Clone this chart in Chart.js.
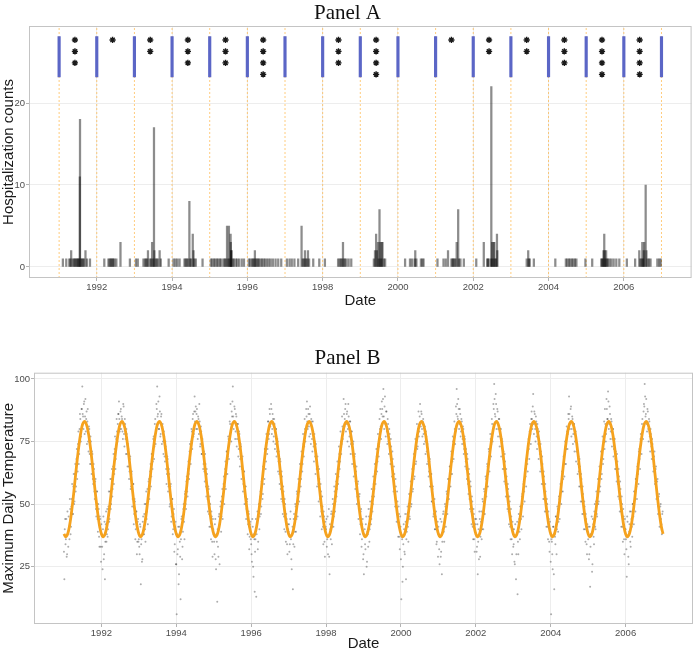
<!DOCTYPE html>
<html>
<head>
<meta charset="utf-8">
<script src="https://cdn.jsdelivr.net/npm/chart.js@4.4.1/dist/chart.umd.min.js"></script>
<style>
  html, body { margin: 0; padding: 0; background: #fff; }
  body { width: 697px; height: 653px; position: relative; overflow: hidden; }
  canvas { position: absolute; left: 0; }
  #panelA { top: 0; }
  #panelB { top: 335px; }
</style>
</head>
<body>
<canvas id="panelA" width="697" height="310"></canvas>
<canvas id="panelB" width="697" height="318"></canvas>
<script>
// ---- Panel A : hospitalization counts (decimal year of admission, count)
const admitDates = [
  1991.10, 1991.19, 1991.27, 1991.30, 1991.32, 1991.36, 1991.39, 1991.42, 1991.44, 1991.47, 1991.49, 1991.51, 1991.53, 1991.55, 1991.555, 1991.58, 1991.61, 1991.63, 1991.66, 1991.70, 1991.74, 1991.82,
  1992.20, 1992.31, 1992.34, 1992.37, 1992.39, 1992.42, 1992.44, 1992.47, 1992.52, 1992.63, 1992.88,
  1993.04, 1993.09, 1993.24, 1993.28, 1993.31, 1993.34, 1993.36, 1993.41, 1993.44, 1993.47, 1993.49, 1993.52, 1993.53, 1993.56, 1993.59, 1993.62, 1993.67, 1993.70,
  1993.91, 1994.04, 1994.09, 1994.14, 1994.20, 1994.33, 1994.36, 1994.39, 1994.42, 1994.46, 1994.48, 1994.51, 1994.55, 1994.57, 1994.59, 1994.63, 1994.81,
  1995.03, 1995.07, 1995.11, 1995.15, 1995.19, 1995.23, 1995.27, 1995.31, 1995.37, 1995.40, 1995.43, 1995.46, 1995.49, 1995.51, 1995.53, 1995.555, 1995.56, 1995.57, 1995.58, 1995.61, 1995.64, 1995.69, 1995.73, 1995.78, 1995.85, 1995.91,
  1996.04, 1996.08, 1996.12, 1996.15, 1996.18, 1996.20, 1996.22, 1996.25, 1996.28, 1996.31, 1996.35, 1996.39, 1996.43, 1996.47, 1996.52, 1996.57, 1996.62, 1996.68, 1996.75, 1996.82, 1996.90,
  1997.05, 1997.12, 1997.18, 1997.25, 1997.35, 1997.44, 1997.47, 1997.50, 1997.53, 1997.55, 1997.58, 1997.61, 1997.64, 1997.75, 1997.91,
  1998.06, 1998.41, 1998.45, 1998.48, 1998.51, 1998.54, 1998.56, 1998.59, 1998.63, 1998.69, 1998.76,
  1999.36, 1999.39, 1999.42, 1999.44, 1999.47, 1999.49, 1999.51, 1999.53, 1999.55, 1999.57, 1999.59, 1999.62, 1999.66,
  2000.19, 2000.32, 2000.37, 2000.44, 2000.46, 2000.49, 2000.61, 2000.65, 2000.68,
  2001.05, 2001.21, 2001.27, 2001.33, 2001.42, 2001.45, 2001.47, 2001.50, 2001.53, 2001.56, 2001.60, 2001.62, 2001.66, 2001.75,
  2002.08, 2002.28, 2002.37, 2002.39, 2002.41, 2002.47, 2002.48, 2002.50, 2002.52, 2002.54, 2002.56, 2002.58, 2002.60, 2002.63, 2002.64,
  2003.42, 2003.46, 2003.48, 2003.50, 2003.61,
  2004.18, 2004.46, 2004.50, 2004.54, 2004.58, 2004.62, 2004.66, 2004.70, 2004.74,
  2004.98, 2005.16, 2005.40, 2005.42, 2005.44, 2005.46, 2005.48, 2005.49, 2005.51, 2005.53, 2005.55, 2005.58, 2005.62, 2005.67, 2005.73, 2005.80, 2005.88,
  2006.08, 2006.30, 2006.41, 2006.44, 2006.47, 2006.49, 2006.51, 2006.53, 2006.54, 2006.58, 2006.60, 2006.63, 2006.67, 2006.71, 2006.89, 2006.94, 2006.98
];
const admitCounts = [
  1, 1, 1, 1, 2, 1, 1, 1, 1, 1, 1, 1, 1, 11, 18, 1, 1, 1, 1, 2, 1, 1,
  1, 1, 1, 1, 1, 1, 1, 1, 1, 3, 1,
  1, 1, 1, 1, 1, 1, 2, 1, 1, 3, 1, 17, 2, 1, 1, 1, 2, 1,
  1, 1, 1, 1, 1, 1, 1, 1, 1, 8, 1, 1, 4, 2, 1, 1, 1,
  1, 1, 1, 1, 1, 1, 1, 1, 1, 1, 1, 5, 1, 5, 1, 4, 3, 2, 2, 1, 1, 1, 1, 1, 1, 1,
  1, 1, 1, 1, 1, 2, 1, 1, 1, 1, 1, 1, 1, 1, 1, 1, 1, 1, 1, 1, 1,
  1, 1, 1, 1, 1, 5, 1, 1, 2, 1, 1, 2, 1, 1, 1,
  1, 1, 1, 1, 1, 3, 1, 1, 1, 1, 1,
  1, 2, 4, 2, 3, 1, 7, 3, 1, 3, 3, 1, 1,
  1, 1, 1, 1, 2, 1, 1, 1, 1,
  1, 1, 1, 2, 1, 1, 1, 1, 1, 3, 7, 1, 1, 1,
  1, 3, 1, 1, 1, 1, 22, 3, 1, 3, 3, 1, 1, 4, 2,
  1, 2, 1, 1, 1,
  1, 1, 1, 1, 1, 1, 1, 1, 1,
  1, 1, 1, 1, 1, 2, 4, 2, 1, 2, 1, 1, 1, 1, 1, 1, 1,
  1, 1, 2, 1, 1, 3, 1, 2, 3, 10, 2, 1, 1, 1, 1, 1, 1
];

// year boundaries (orange dotted lines and blue markers)
const yearLines = [1991, 1992, 1993, 1994, 1995, 1996, 1997, 1998, 1999, 2000, 2001, 2002, 2003, 2004, 2005, 2006, 2007];
const blueSpan = [23.2, 28.1];

// significance asterisks per year
const starDates  = [1991.42, 1992.42, 1993.42, 1994.42, 1995.42, 1996.42, 1997.42, 1998.42, 1999.42, 2000.42, 2001.42, 2002.42, 2003.42, 2004.42, 2005.42, 2006.42];
const starCounts = [3, 1, 2, 3, 3, 4, 0, 3, 4, 0, 1, 2, 2, 3, 4, 4];
const starLevels = [27.7, 26.3, 24.9, 23.5];

const yearTicks = [1992, 1994, 1996, 1998, 2000, 2002, 2004, 2006];

// ---- Panel B : maximum daily temperature, two sets of 48 readings per year
const tempYears = [1991, 1992, 1993, 1994, 1995, 1996, 1997, 1998, 1999, 2000, 2001, 2002, 2003, 2004, 2005, 2006];
const tempSamples = [
  [20,44,36,29,47,33,41,52,38,49,58,46, 62,51,66,57,72,63,79,70,86,75,88,97, 85,90,78,92,84,74,88,71,80,66,75,62, 70,58,64,52,60,45,55,39,48,33,44,27],
  [38,24,45,30,20,42,35,48,40,55,44,60, 50,64,56,70,62,77,68,84,75,86,91,79, 87,80,84,76,89,73,82,70,78,65,72,60, 68,56,62,49,58,42,52,36,47,30,43,35],
  [33,42,18,36,28,45,38,50,35,55,47,42, 59,52,63,57,70,64,76,68,82,74,90,97, 86,80,93,77,85,74,82,70,77,67,73,58, 69,55,64,49,57,43,52,38,46,31,41,26],
  [6,30,41,22,35,12,44,28,39,50,36,55, 48,61,53,67,60,74,66,80,72,86,78,93, 87,80,88,76,84,90,73,81,70,76,64,71, 59,66,53,62,47,56,41,50,36,45,29,40],
  [35,42,28,38,11,33,45,26,49,39,53,44, 58,50,64,56,71,62,77,68,83,90,75,85, 97,80,89,76,86,73,82,69,79,65,74,60, 68,55,63,50,57,44,51,38,47,32,42,36],
  [30,44,25,38,15,36,13,42,32,47,40,53, 46,59,52,65,58,72,64,78,70,83,76,88, 81,90,78,86,75,84,72,80,69,76,63,71, 58,67,52,61,46,55,40,50,35,44,30,40],
  [42,34,47,28,38,16,44,33,50,39,55,45, 60,51,66,57,71,63,78,69,84,75,88,91, 80,86,77,89,74,83,71,79,67,75,62,70, 57,65,51,60,45,55,40,49,34,45,29,41],
  [44,36,30,48,22,40,46,34,52,41,57,47, 62,53,67,58,73,64,79,70,85,76,92,81, 88,79,86,75,90,73,83,70,79,66,74,61, 69,56,63,50,58,44,53,38,47,33,42,28],
  [22,40,32,45,27,38,48,35,51,42,56,47, 61,53,66,58,72,63,78,69,84,88,76,91, 85,96,80,93,77,87,74,82,70,78,66,73, 61,68,55,62,49,57,43,51,37,46,32,41],
  [12,36,25,42,31,46,20,39,49,35,54,44, 59,50,64,56,70,61,76,67,82,73,87,79, 90,81,86,77,84,74,81,70,77,66,72,61, 67,57,62,51,56,45,50,40,45,34,41,29],
  [38,26,44,31,22,40,47,35,50,41,55,46, 60,52,65,57,71,62,77,68,83,74,89,96, 85,92,80,88,77,84,74,81,70,77,65,72, 60,68,54,62,48,57,42,51,36,46,31,42],
  [44,33,22,40,47,29,43,36,52,40,56,46, 61,53,66,57,72,63,78,69,84,75,90,98, 86,94,80,88,77,84,73,80,69,76,64,71, 59,67,53,61,48,56,42,51,36,45,30,40],
  [34,27,42,20,38,14,30,44,36,49,40,54, 45,59,51,64,57,70,63,76,68,82,74,87, 80,94,78,86,75,83,72,80,68,75,63,71, 58,66,52,61,47,55,41,50,36,44,31,40],
  [6,35,24,41,16,37,45,30,49,39,53,44, 58,50,63,55,69,61,75,66,81,72,86,93, 80,88,77,85,74,82,71,78,67,74,62,69, 57,65,51,60,46,54,40,49,35,44,30,39],
  [41,30,17,38,45,26,42,34,50,40,55,45, 60,51,65,57,71,62,77,68,83,88,75,92, 84,95,80,89,76,84,73,80,69,76,64,71, 59,67,53,61,47,56,41,50,35,45,30,40],
  [36,21,43,29,39,47,33,44,37,50,42,55, 47,60,52,66,58,72,64,78,70,84,76,90, 98,85,92,79,87,75,83,71,78,68,74,63, 69,58,64,52,59,46,53,41,49,44,38,47]
];
const tempSamplesB = [
  [31,40,34,44,30,39,45,36,48,41,52,46, 57,50,62,55,68,60,74,66,80,84,77,88, 86,80,91,85,79,87,83,75,81,70,77,66, 71,60,66,55,59,48,55,44,50,37,45,33],
  [42,33,40,28,43,35,47,38,37,49,43,55, 48,60,53,65,58,72,64,76,79,82,86,84, 80,88,85,79,90,78,84,76,80,70,74,65, 63,69,57,63,52,58,46,51,40,47,35,44],
  [36,30,41,34,27,43,38,46,40,50,44,56, 51,60,56,66,61,70,67,77,73,84,79,88, 85,91,80,87,78,86,81,75,79,69,75,64, 62,68,57,62,50,58,45,52,40,48,34,43],
  [26,38,32,18,41,29,36,45,33,48,43,54, 50,59,55,64,62,71,68,75,79,84,77,87, 83,89,86,80,85,78,83,74,79,70,73,66, 63,70,57,64,52,57,46,53,41,47,35,44],
  [38,30,44,24,35,40,29,46,42,51,45,56, 53,61,57,67,62,71,69,76,74,82,80,87, 91,85,83,88,79,85,76,82,72,78,68,73, 64,69,58,63,53,57,48,52,42,46,37,43],
  [34,27,41,21,36,31,44,38,47,35,50,45, 55,49,60,54,65,60,72,67,76,72,83,78, 86,82,88,80,84,77,82,74,80,71,75,67, 62,68,56,63,51,57,45,52,39,46,34,42],
  [39,31,44,36,24,41,34,46,39,49,44,54, 50,58,55,63,60,69,66,74,73,80,79,85, 83,88,81,86,78,84,76,83,73,78,69,74, 64,69,58,64,52,58,47,53,41,47,35,43],
  [40,33,45,37,29,42,36,47,41,50,45,55, 51,59,56,64,61,70,67,75,74,81,80,86, 84,90,82,87,80,85,77,83,74,79,70,75, 65,70,59,65,53,59,48,54,42,48,36,44],
  [30,38,34,42,25,39,33,45,40,48,44,53, 50,58,56,63,62,69,67,74,73,80,81,86, 88,92,85,89,82,87,79,84,75,80,71,76, 66,71,60,65,54,60,49,55,43,49,37,45],
  [28,37,19,34,40,30,43,36,46,41,50,45, 54,49,59,55,64,60,70,66,75,72,80,77, 85,82,87,80,83,78,81,75,79,71,74,67, 63,68,57,62,51,57,46,52,40,47,35,43],
  [41,32,37,29,43,35,46,39,44,49,47,54, 52,60,57,65,62,70,67,75,74,80,79,86, 90,84,88,82,86,79,83,76,80,72,76,67, 64,70,58,64,52,59,47,53,41,48,36,44],
  [38,31,42,35,28,44,37,47,40,51,46,55, 52,60,57,65,62,71,68,76,74,82,80,88, 92,85,90,83,87,80,84,77,80,73,75,68, 64,70,58,64,53,58,47,53,41,48,36,43],
  [33,40,26,37,30,43,35,46,39,49,44,53, 50,58,55,63,61,68,66,74,72,79,78,84, 84,89,82,87,80,85,77,82,74,79,70,74, 64,69,58,63,52,58,47,52,41,47,35,43],
  [27,36,30,41,22,38,34,45,40,48,43,52, 51,57,55,62,60,68,66,73,72,79,78,84, 86,82,89,80,84,78,82,75,79,71,74,66, 63,68,57,62,51,57,46,51,40,46,34,42],
  [36,28,41,33,38,23,44,37,47,41,51,46, 54,50,59,55,64,60,70,66,75,72,82,78, 88,84,91,82,86,79,83,76,80,72,76,68, 64,70,58,64,52,59,47,53,41,48,36,44],
  [40,32,45,37,26,42,35,47,41,50,45,55, 52,60,57,65,62,71,68,76,74,82,80,87, 89,93,86,82,88,80,84,77,80,73,76,68, 65,71,59,65,54,60,49,54,44,50,42,46]
];

// seasonal fit, one yearly cycle read at half-month steps, and its last value (Jan 2007)
const fitCycle = [38.1, 37.0, 37.5, 39.5, 42.9, 47.5, 52.9, 58.9, 64.9, 70.4, 75.3, 79.3,
                  82.0, 83.0, 82.5, 80.5, 77.1, 72.5, 67.1, 61.1, 55.1, 49.6, 44.7, 40.7];
const fitEnd = 38.1;

const tempTicks = [25, 50, 75, 100];

// ---- helpers
Chart.defaults.font.family = "'Liberation Sans', Arial, sans-serif";
Chart.defaults.animation = false;
Chart.defaults.plugins.legend.display = false;
Chart.defaults.plugins.tooltip.enabled = false;

const panelBox = {
  id: 'panelBox',
  afterDraw(chart) {
    const { ctx, chartArea: a } = chart;
    ctx.save();
    ctx.strokeStyle = '#c4c4c4';
    ctx.lineWidth = 1;
    ctx.strokeRect(a.left + 0.5, a.top + 0.5, a.right - a.left - 1, a.bottom - a.top - 1);
    ctx.restore();
  }
};

function xAxis(height) {
  return {
    type: 'linear', min: 1990.2, max: 2007.8, offset: false,
    afterBuildTicks: s => { s.ticks = yearTicks.map(v => ({ value: v })); },
    afterFit: s => { s.height = height; },
    grid: { color: '#ededed', tickColor: '#b3b3b3', tickLength: 3, offset: false },
    border: { display: false },
    ticks: { color: '#4d4d4d', font: { size: 9.5 }, padding: 1, maxRotation: 0, autoSkip: false, callback: v => String(v) },
    title: { display: true, text: 'Date', color: '#1a1a1a', font: { size: 15 }, padding: 0 }
  };
}

function yAxis(min, max, ticks, width, label) {
  return {
    type: 'linear', min: min, max: max,
    afterBuildTicks: s => { s.ticks = ticks.map(v => ({ value: v })); },
    afterFit: s => { s.width = width; },
    grid: { color: '#ededed', tickColor: '#b3b3b3', tickLength: 3 },
    border: { display: false },
    ticks: { color: '#4d4d4d', font: { size: 9.5 }, padding: 1, callback: v => String(v) },
    title: { display: true, text: label, color: '#1a1a1a', font: { size: 15 }, padding: 0 }
  };
}

const titleFont = { family: "'Liberation Serif', 'Times New Roman', serif", size: 21, weight: 'normal', lineHeight: 1.1 };

// ---- Panel A
const admitBars = admitDates.map((d, i) => ({ x: d, y: admitCounts[i] }));
const blueBars = yearLines.map(y => ({ x: y, y: blueSpan }));
const starPoints = [];
starDates.forEach((d, i) => {
  for (let k = 0; k < starCounts[i]; k++) starPoints.push({ x: d, y: starLevels[k] });
});
const orangeLines = yearLines.map(y => ({
  type: 'line',
  data: [{ x: y, y: -1.35 }, { x: y, y: 29.4 }],
  borderColor: 'rgba(255,170,40,0.6)',
  borderDash: [2, 2],
  borderWidth: 1,
  pointRadius: 0,
  order: 3
}));

new Chart(document.getElementById('panelA'), {
  type: 'bar',
  data: {
    datasets: [
      { type: 'scatter', data: starPoints, pointStyle: 'star', radius: 3.1, borderColor: '#1a1a1a', borderWidth: 1.4, order: 0 },
      { type: 'bar', data: blueBars, backgroundColor: '#5b66c6', barThickness: 2.5, grouped: false, order: 1 },
      { type: 'bar', data: admitBars, backgroundColor: 'rgba(0,0,0,0.45)', barThickness: 1.6, grouped: false, order: 2 },
      ...orangeLines
    ]
  },
  options: {
    responsive: false,
    devicePixelRatio: 1,
    layout: { padding: { left: 0, right: 2, top: 0, bottom: 0 } },
    plugins: {
      title: { display: true, text: 'Panel A', font: titleFont, color: '#111', padding: { top: 2, bottom: 0.9 } }
    },
    scales: {
      x: xAxis(32),
      y: yAxis(-1.35, 29.4, [0, 10, 20], 29, 'Hospitalization counts')
    }
  },
  plugins: [panelBox]
});

// ---- Panel B
const tempPoints = [];
tempYears.forEach((yr, r) => {
  tempSamples[r].forEach((t, k) => tempPoints.push({ x: yr + (k + 0.5) / 48, y: t }));
  tempSamplesB[r].forEach((t, k) => tempPoints.push({ x: yr + k / 48, y: t }));
});
const fitPoints = [];
tempYears.forEach(yr => {
  fitCycle.forEach((v, j) => fitPoints.push({ x: yr + j / 24, y: v }));
});
fitPoints.push({ x: 2007, y: fitEnd });

new Chart(document.getElementById('panelB'), {
  type: 'scatter',
  data: {
    datasets: [
      { type: 'line', data: fitPoints, borderColor: '#f5a21e', borderWidth: 2.8, pointRadius: 0, tension: 0.4, order: 0 },
      { data: tempPoints, backgroundColor: 'rgba(0,0,0,0.32)', borderWidth: 0, pointRadius: 1.0, order: 1 }
    ]
  },
  options: {
    responsive: false,
    devicePixelRatio: 1,
    layout: { padding: { left: 0, right: 2, top: 0, bottom: 0 } },
    plugins: {
      title: { display: true, text: 'Panel B', font: titleFont, color: '#111', padding: { top: 12, bottom: 2.6 } }
    },
    scales: {
      x: xAxis(29),
      y: yAxis(2.1, 102.5, tempTicks, 34, 'Maximum Daily Temperature')
    }
  },
  plugins: [panelBox]
});
</script>
</body>
</html>
